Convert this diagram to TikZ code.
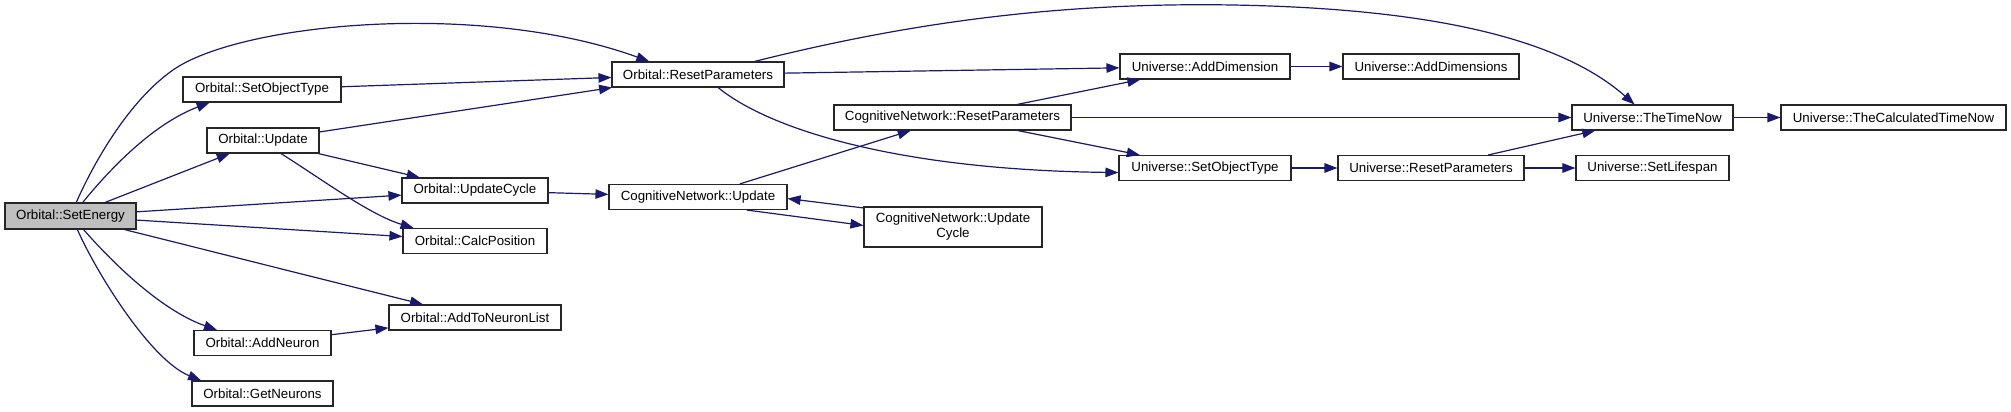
\documentclass[tikz,border=0pt]{standalone}
\usepackage{fontspec}
\setmainfont{Liberation Sans}
\usepackage{xcolor}
\usepackage{tikz}
\usetikzlibrary{arrows.meta}
\definecolor{callblue}{RGB}{25,25,112}

\begin{document}
\begin{tikzpicture}[
  x=1pt, y=-1pt,
  fn/.style={draw=black!85, line width=1.1pt, fill=white,
    minimum height=25pt, inner sep=1pt, align=center,
    font=\fontsize{13.3}{15}\selectfont},
  rootfn/.style={fn, fill=black!25, minimum height=26pt},
  callarrow/.style={-{Triangle[length=13pt, width=9.5pt]},
    line width=1.2pt, draw=callblue},
]

\path[use as bounding box] (0,0) rectangle (2011,412);

% ── Orbital functions ───────────────────────────────────
\node[rootfn, minimum width=131pt] (se) at (70.5,216) {Orbital::SetEnergy};

\node[fn, minimum width=158pt] (ost) at (262,89.5) {Orbital::SetObjectType};
\node[fn, minimum width=112pt] (oup) at (263,140.5) {Orbital::Update};
\node[fn, minimum width=137pt] (oan) at (262.5,343) {Orbital::AddNeuron};
\node[fn, minimum width=141pt] (ogn) at (262.5,393.5) {Orbital::GetNeurons};

\node[fn, minimum width=146pt] (ouc)   at (475,190.5) {Orbital::UpdateCycle};
\node[fn, minimum width=144pt] (ocp)   at (475,241) {Orbital::CalcPosition};
\node[fn, minimum width=172pt] (oatnl) at (475,317.5) {Orbital::AddToNeuronList};

\node[fn, minimum width=172pt] (orp) at (698,74.5) {Orbital::ResetParameters};

% ── CognitiveNetwork functions ──────────────────────────
\node[fn, minimum width=178pt] (cnu)  at (698,197) {CognitiveNetwork::Update};
\node[fn, minimum width=237pt] (cnrp) at (952.5,117.5) {CognitiveNetwork::ResetParameters};
\node[fn, minimum width=178pt, minimum height=40pt] (cnuc) at (953,227)
  {CognitiveNetwork::Update\\Cycle};

% ── Universe functions ──────────────────────────────────
\node[fn, minimum width=170pt] (uad)   at (1205,66.5) {Universe::AddDimension};
\node[fn, minimum width=172pt] (uot)   at (1205,168) {Universe::SetObjectType};
\node[fn, minimum width=176pt] (uads)  at (1431,66.5) {Universe::AddDimensions};
\node[fn, minimum width=186pt] (urp)   at (1431,168) {Universe::ResetParameters};
\node[fn, minimum width=161pt] (uttn)  at (1652.5,117.5) {Universe::TheTimeNow};
\node[fn, minimum width=153pt] (usl)   at (1652.5,168) {Universe::SetLifespan};
\node[fn, minimum width=225pt] (utctn) at (1893.5,117.5) {Universe::TheCalculatedTimeNow};

% ── Calls from SetEnergy ────────────────────────────────
\draw[callarrow] (se.67) .. controls (95,160) and (130,100) .. (173,70)
  .. controls (240,23) and (480,0) .. (orp.165);
\draw[callarrow] (se.48) .. controls (105,175) and (150,125) .. (ost.-166.5);
\draw[callarrow] (se) -- (oup);
\draw[callarrow] (se) -- (ouc);
\draw[callarrow] (se) -- (ocp);
\draw[callarrow] (se) -- (oatnl);
\draw[callarrow] (se.-46) .. controls (110,260) and (160,310) .. (oan.164);
\draw[callarrow] (se.-63) .. controls (95,270) and (150,360) .. (ogn.168);

% ── Second level ────────────────────────────────────────
\draw[callarrow] (ost) -- (orp);
\draw[callarrow] (oup) -- (orp);
\draw[callarrow] (oup) -- (ouc);
\draw[callarrow] (oup.-36) .. controls (320,178) and (370,215) .. (ocp.168);
\draw[callarrow] (oan) -- (oatnl);
\draw[callarrow] (ouc) -- (cnu);

% CognitiveNetwork calls
\draw[callarrow] (cnu) -- (cnrp);
\draw[callarrow] (cnu.-15) -- (cnuc.179);
\draw[callarrow] (cnuc.168) -- (cnu.-1);

% ResetParameters calls
\draw[callarrow] (orp) -- (uad);
\draw[callarrow] (orp.13.5) .. controls (900,25) and (1050,2) .. (1233,5)
  .. controls (1400,8) and (1550,30) .. (uttn.144);
\draw[callarrow] (orp.-33) .. controls (770,130) and (900,170) .. (uot.183);
\draw[callarrow] (cnrp) -- (uad);
\draw[callarrow] (cnrp) -- (uttn);
\draw[callarrow] (cnrp) -- (uot);

% ── Universe calls ──────────────────────────────────────
\draw[callarrow] (uad) -- (uads);
\draw[callarrow] (uot) -- (urp);
\draw[callarrow] (urp) -- (uttn);
\draw[callarrow] (urp) -- (usl);
\draw[callarrow] (uttn) -- (utctn);

\end{tikzpicture}
\end{document}
